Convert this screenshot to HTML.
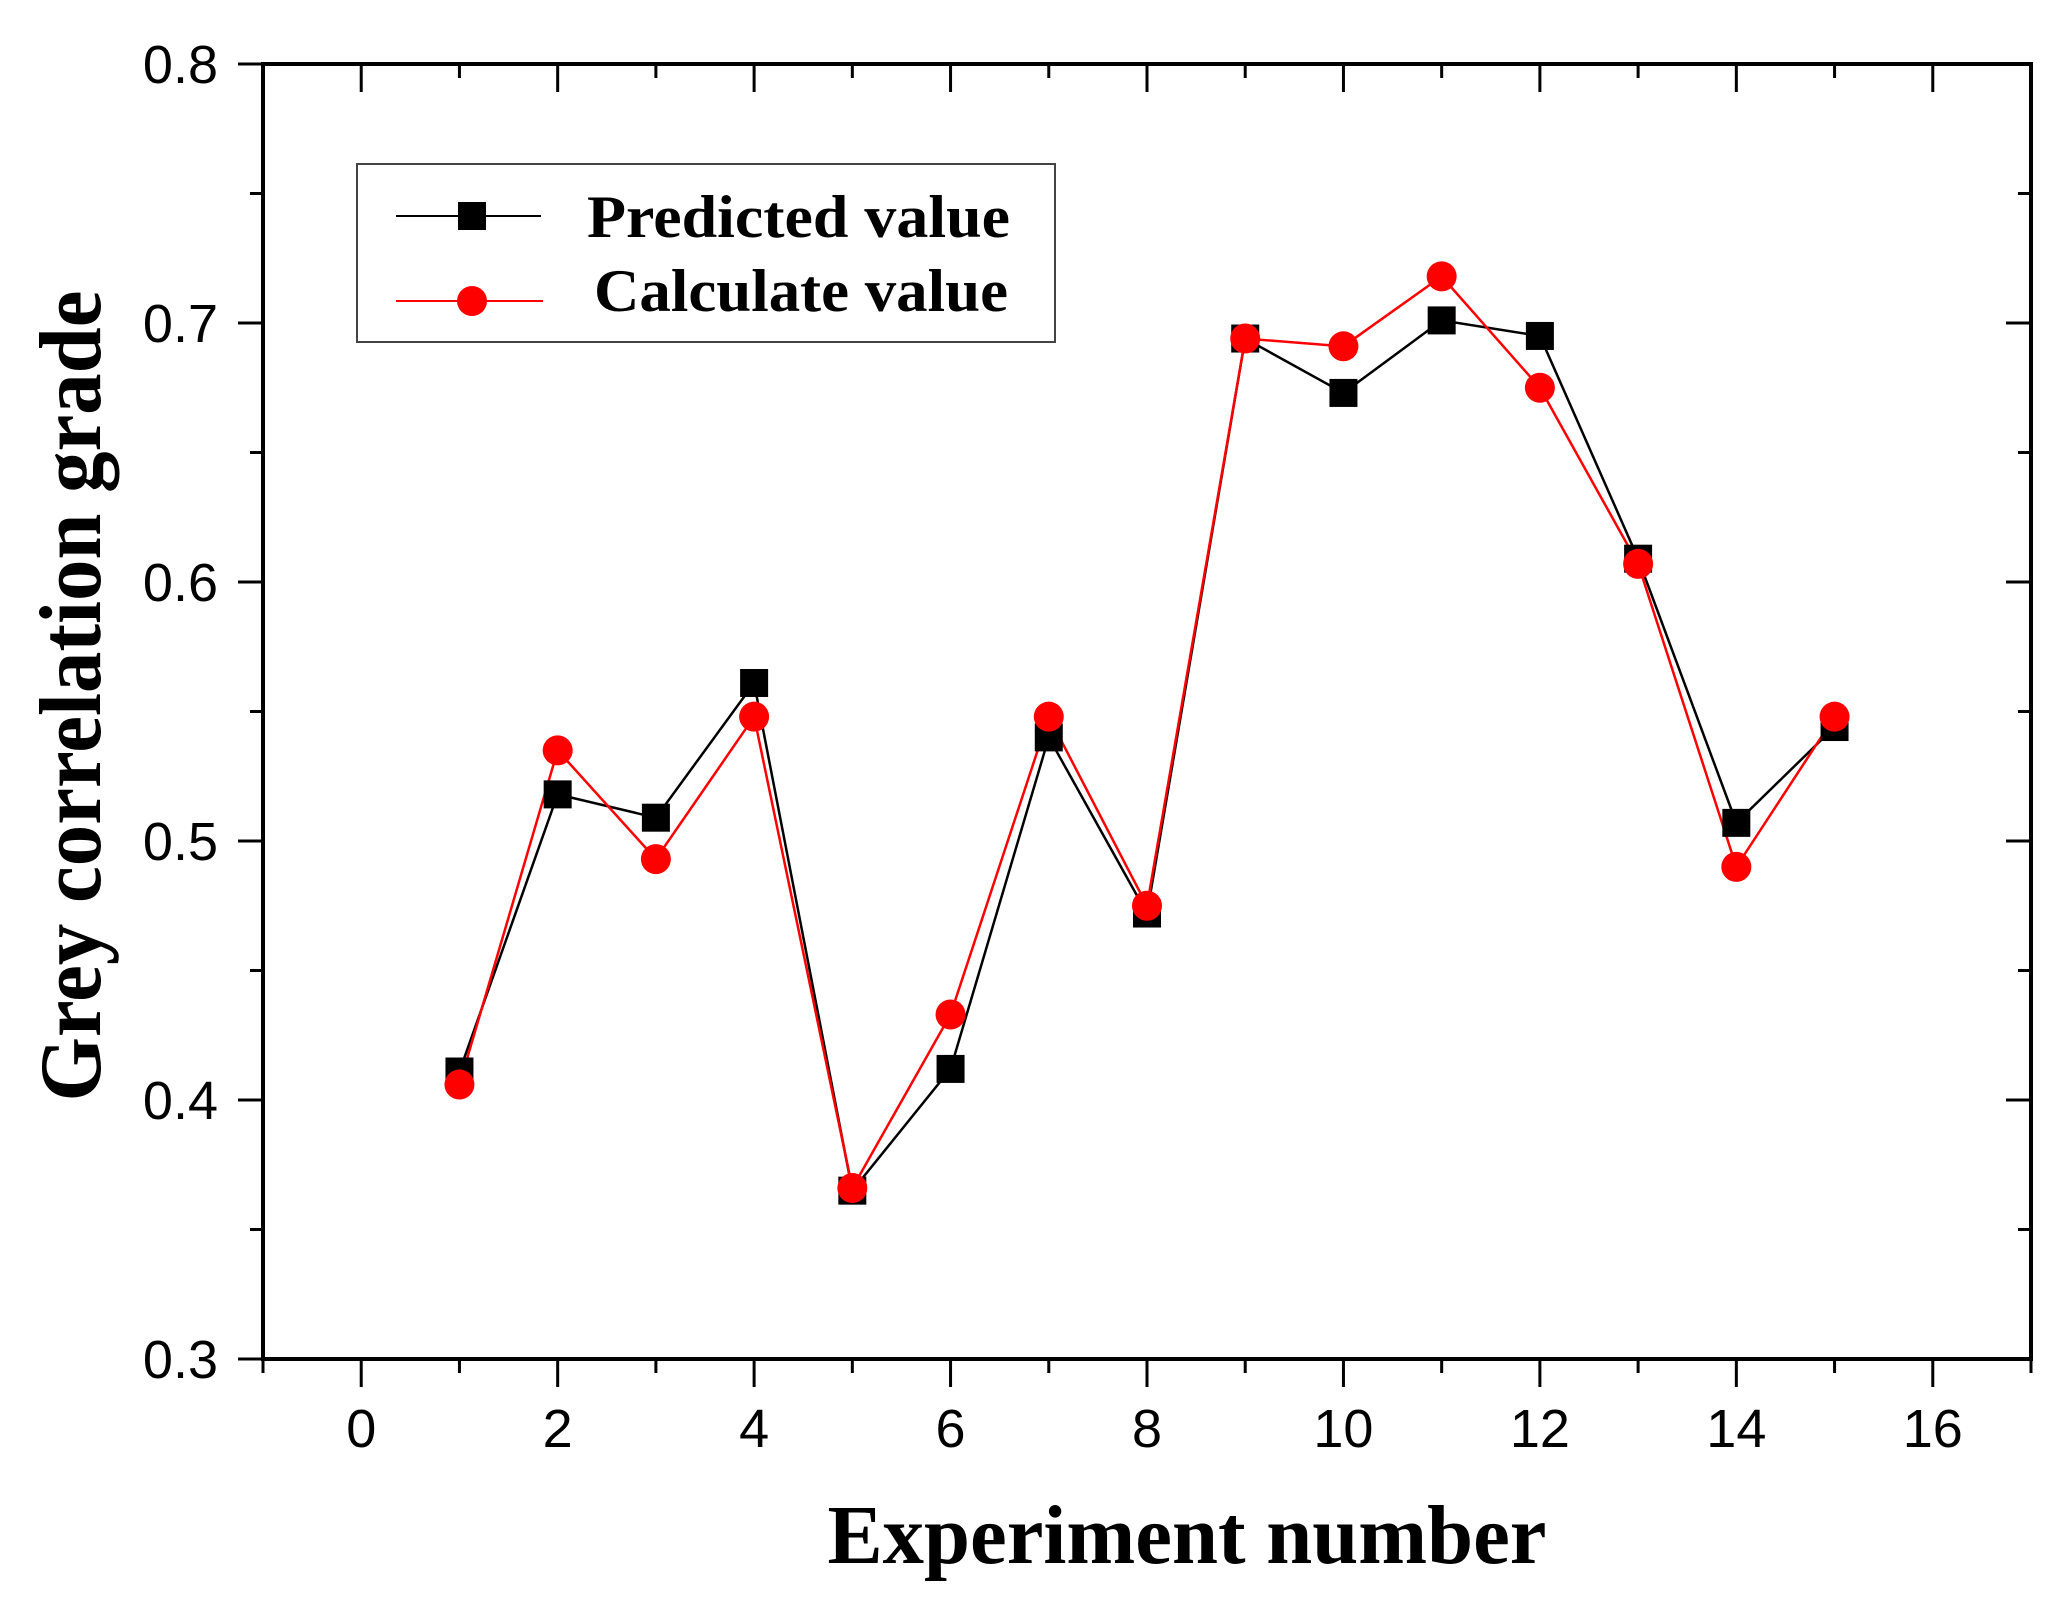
<!DOCTYPE html>
<html><head><meta charset="utf-8"><style>
html,body{margin:0;padding:0;background:#fff}
svg{display:block}
</style></head><body>
<svg id="chart" width="2068" height="1608" viewBox="0 0 2068 1608" xmlns="http://www.w3.org/2000/svg">
<rect x="0" y="0" width="2068" height="1608" fill="#fff"/>
<g id="grid-layer"></g>
<g id="series-layer"></g>
<text x="1187" y="1563" font-family="Liberation Serif, serif" font-weight="bold" font-size="84" text-anchor="middle" textLength="719" lengthAdjust="spacingAndGlyphs">Experiment number</text>
<text transform="translate(100,696) rotate(-90)" x="0" y="0" font-family="Liberation Serif, serif" font-weight="bold" font-size="88" text-anchor="middle" textLength="811" lengthAdjust="spacingAndGlyphs">Grey correlation grade</text>
<g>
<rect x="357" y="164" width="698" height="178" fill="#fff" stroke="#444" stroke-width="2"/>
<g>
<line x1="396" y1="216" x2="541" y2="216" stroke="#000" stroke-width="2"/>
<rect x="458" y="202" width="28" height="28" fill="#000"/>
<text x="587" y="237" font-family="Liberation Serif, serif" font-weight="bold" font-size="60" textLength="423" lengthAdjust="spacingAndGlyphs">Predicted value</text>
</g>
<g>
<line x1="396" y1="301" x2="543" y2="301" stroke="#f00" stroke-width="2"/>
<circle cx="472" cy="301" r="15" fill="#f00"/>
<text x="594" y="311" font-family="Liberation Serif, serif" font-weight="bold" font-size="60" textLength="414" lengthAdjust="spacingAndGlyphs">Calculate value</text>
</g>
</g>
</svg>
<script>
const categories = [1,2,3,4,5,6,7,8,9,10,11,12,13,14,15];
const predictedValues = [0.411,0.518,0.509,0.561,0.365,0.412,0.540,0.472,0.694,0.673,0.701,0.695,0.609,0.507,0.544];
const calculateValues = [0.406,0.535,0.493,0.548,0.366,0.433,0.548,0.475,0.694,0.691,0.718,0.675,0.607,0.490,0.548];
const xTickLabels = ["0","2","4","6","8","10","12","14","16"];
const yTickLabels = ["0.3","0.4","0.5","0.6","0.7","0.8"];

const NS = "http://www.w3.org/2000/svg";
const L = 263, R = 2031, T = 64, B = 1359;
const xMin = -1, xMax = 17, yMin = 0.3, yMax = 0.8;
function xs(v){ return L + (v - xMin) / (xMax - xMin) * (R - L); }
function ys(v){ return B - (v - yMin) / (yMax - yMin) * (B - T); }
function mk(tag, attrs, parent){
  const e = document.createElementNS(NS, tag);
  for (const k in attrs) e.setAttribute(k, attrs[k]);
  parent.appendChild(e);
  return e;
}
const axes = document.getElementById('grid-layer');
const series = document.getElementById('series-layer');
const frame = mk('rect', {x:L, y:T, width:R-L, height:B-T, fill:'none', stroke:'#000', 'stroke-width':4}, axes);



// x ticks
for (let v = -1; v <= 17; v++) {
  const major = v % 2 === 0;
  const len = major ? 28 : 14;
  const x = xs(v);
  const t1 = mk('line', {x1:x, y1:B, x2:x, y2:B+len, stroke:'#000', 'stroke-width':3}, axes);
  
  
  const t2 = mk('line', {x1:x, y1:T, x2:x, y2:T+len, stroke:'#000', 'stroke-width':3}, axes);
  
  
}
xTickLabels.forEach(s => {
  const t = mk('text', {x:xs(parseFloat(s)), y:1447, 'font-family':'Liberation Sans, sans-serif', 'font-size':54, 'text-anchor':'middle'}, axes);
  t.textContent = s;
  
  
});
// y ticks
for (let i = 0; i <= 10; i++) {
  const v = yMin + i * 0.05;
  const major = i % 2 === 0;
  const len = major ? 25 : 13;
  const y = ys(v);
  const t1 = mk('line', {x1:L-len, y1:y, x2:L, y2:y, stroke:'#000', 'stroke-width':3}, axes);
  
  
  const t2 = mk('line', {x1:R-len, y1:y, x2:R, y2:y, stroke:'#000', 'stroke-width':3}, axes);
  
  
}
yTickLabels.forEach(s => {
  const t = mk('text', {x:218, y:ys(parseFloat(s)) + 19, 'font-family':'Liberation Sans, sans-serif', 'font-size':54, 'text-anchor':'end'}, axes);
  t.textContent = s;
  
  
});

// predicted series
const pPts = categories.map((c,i) => xs(c) + ',' + ys(predictedValues[i])).join(' ');
const pl = mk('polyline', {points:pPts, fill:'none', stroke:'#000', 'stroke-width':2.5}, series);


// calculate series line
const cPts = categories.map((c,i) => xs(c) + ',' + ys(calculateValues[i])).join(' ');
const cl = mk('polyline', {points:cPts, fill:'none', stroke:'#f00', 'stroke-width':2.5}, series);


categories.forEach((c,i) => {
  const r = mk('rect', {x:xs(c)-14, y:ys(predictedValues[i])-14, width:28, height:28, fill:'#000'}, series);
  
  
});
categories.forEach((c,i) => {
  const p = mk('circle', {cx:xs(c), cy:ys(calculateValues[i]), r:15, fill:'#f00'}, series);
  
  
});
</script>
</body></html>
